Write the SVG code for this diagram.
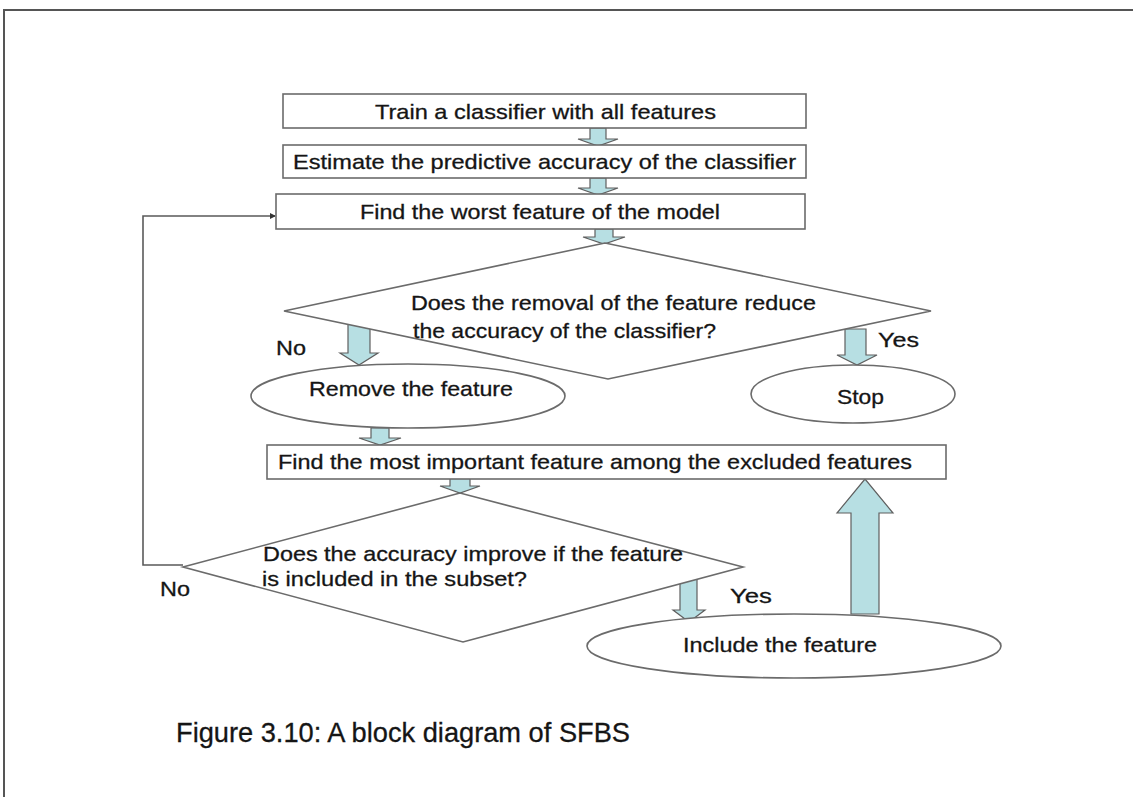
<svg xmlns="http://www.w3.org/2000/svg" width="1133" height="797" viewBox="0 0 1133 797">
  <style>
    .box { fill: #ffffff; stroke: #6b6b6b; stroke-width: 1.6; }
    .arr { fill: #b7dfe3; stroke: #5f5f5f; stroke-width: 1.2; stroke-linejoin: miter; }
    .t { font-family: "Liberation Sans", Arial, sans-serif; font-size: 21px; fill: #151515; stroke: #151515; stroke-width: 0.3; }
    .link { fill: none; stroke: #5a5a5a; stroke-width: 1.6; }
    .cap { font-family: "Liberation Sans", Arial, sans-serif; font-size: 28px; fill: #151515; stroke: #151515; stroke-width: 0.3; }
  </style>
  <defs>
    <marker id="tip" markerWidth="6" markerHeight="6" refX="5" refY="3" orient="auto" markerUnits="userSpaceOnUse">
      <path d="M0,0 L6,3 L0,6 Z" fill="#333"/>
    </marker>
  </defs>

  <rect x="0" y="0" width="1133" height="797" fill="#ffffff"/>
  <!-- page frame -->
  <path d="M4,797 L4,10 L1133,10" fill="none" stroke="#555" stroke-width="2"/>

  <!-- connectors -->
  <g id="connectors">
    <path class="arr" d="M590,128 L606,128 L606,139 L618,139 L598,146 L578,139 L590,139 Z"/>
    <path class="arr" d="M590,178 L606,178 L606,188 L618,188 L598,195 L578,188 L590,188 Z"/>
    <path class="arr" d="M595,229 L613,229 L613,237 L625,237 L604,244 L583,237 L595,237 Z"/>
    <path class="arr" d="M348,322 L370,322 L370,353 L378,353 L359,365 L340,353 L348,353 Z"/>
    <path class="arr" d="M845,329 L866,329 L866,355 L877,355 L857,365 L837,355 L845,355 Z"/>
    <path class="arr" d="M371,428 L389,428 L389,438 L401,438 L380,445 L359,438 L371,438 Z"/>
    <path class="arr" d="M450,478 L470,478 L470,486 L480,486 L460,493 L440,486 L450,486 Z"/>
    <path class="arr" d="M680,578 L697,578 L697,610 L705,610 L689,622 L673,610 L680,610 Z"/>
    <path class="arr" d="M851,614 L851,513 L837,513 L865,479 L893,513 L879,513 L879,614 Z"/>
    <polyline class="link" points="183,565 143,565 143,216 275,216" marker-end="url(#tip)"/>
  </g>

  <g id="train">
    <rect class="box" x="283" y="94" width="523" height="34"/>
    <text class="t" x="375" y="119" textLength="341" lengthAdjust="spacingAndGlyphs">Train a classifier with all features</text>
  </g>
  <g id="estimate">
    <rect class="box" x="283" y="145" width="523" height="33"/>
    <text class="t" x="293" y="169" textLength="503" lengthAdjust="spacingAndGlyphs">Estimate the predictive accuracy of the classifier</text>
  </g>
  <g id="worst">
    <rect class="box" x="276" y="194" width="529" height="35"/>
    <text class="t" x="360" y="219" textLength="360" lengthAdjust="spacingAndGlyphs">Find the worst feature of the model</text>
  </g>
  <g id="decision1">
    <polygon class="box" points="605,243 284,311 608,379 931,311"/>
    <text class="t" x="411" y="310" textLength="405" lengthAdjust="spacingAndGlyphs">Does the removal of the feature reduce</text>
    <text class="t" x="413" y="338" textLength="303" lengthAdjust="spacingAndGlyphs">the accuracy of the classifier?</text>
  </g>
  <g id="label-no1">
    <text class="t" x="276" y="355" textLength="30" lengthAdjust="spacingAndGlyphs">No</text>
  </g>
  <g id="label-yes1">
    <text class="t" x="878" y="347" textLength="41" lengthAdjust="spacingAndGlyphs">Yes</text>
  </g>
  <g id="remove">
    <ellipse class="box" cx="408" cy="396" rx="157" ry="32"/>
    <text class="t" x="309" y="396" textLength="204" lengthAdjust="spacingAndGlyphs">Remove the feature</text>
  </g>
  <g id="stop">
    <ellipse class="box" cx="853" cy="394" rx="102" ry="29"/>
    <text class="t" x="837" y="404" textLength="47" lengthAdjust="spacingAndGlyphs">Stop</text>
  </g>
  <g id="most-important">
    <rect class="box" x="267" y="445" width="679" height="34"/>
    <text class="t" x="278" y="469" textLength="634" lengthAdjust="spacingAndGlyphs">Find the most important feature among the excluded features</text>
  </g>
  <g id="decision2">
    <polygon class="box" points="460,493 183,567 463,642 743,567"/>
    <text class="t" x="263" y="561" textLength="420" lengthAdjust="spacingAndGlyphs">Does the accuracy improve if the feature</text>
    <text class="t" x="262" y="586" textLength="265" lengthAdjust="spacingAndGlyphs">is included in the subset?</text>
  </g>
  <g id="label-no2">
    <text class="t" x="160" y="596" textLength="30" lengthAdjust="spacingAndGlyphs">No</text>
  </g>
  <g id="label-yes2">
    <text class="t" x="730" y="603" textLength="42" lengthAdjust="spacingAndGlyphs">Yes</text>
  </g>
  <g id="include">
    <ellipse class="box" cx="794" cy="646" rx="207" ry="32"/>
    <text class="t" x="683" y="652" textLength="194" lengthAdjust="spacingAndGlyphs">Include the feature</text>
  </g>

  <text class="cap" x="176" y="742" textLength="454" lengthAdjust="spacingAndGlyphs">Figure 3.10: A block diagram of SFBS</text>
</svg>
